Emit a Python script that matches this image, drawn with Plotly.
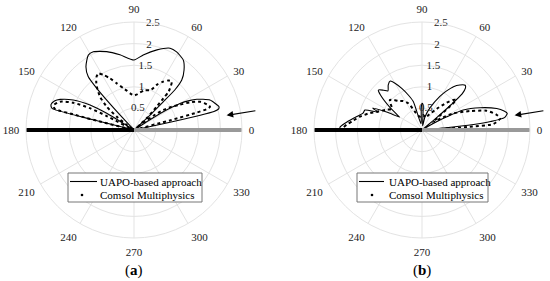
import math
import plotly.graph_objects as go

# ---------------- data ----------------
ANG_TICKS = [0, 30, 60, 90, 120, 150, 180, 210, 240, 270, 300, 330]
RAD_TICKS = [0.5, 1, 1.5, 2, 2.5]
RAD_LABELS = ["0.5", "1", "1.5", "2", "2.5"]
LEGEND_NAMES = ["UAPO-based approach", "Comsol Multiphysics"]
PANEL_LABELS = ["(<b>a</b>)", "(<b>b</b>)"]

# (a) UAPO-based approach (solid)
a_uapo_theta = [0, 11.5, 12, 12.5, 13, 14, 15.5, 18, 21.5, 24, 26, 28, 30, 32, 33, 34,
                42, 43, 44, 44.5, 46.3, 50.2, 54.8, 61.4, 66.2, 74, 83, 90, 100.6, 109.2,
                117.5, 121.4, 127.2, 130.6, 131.8, 133, 134,
                147, 148, 148.5, 150.4, 153.7, 157.5, 160, 163, 165, 165.5, 166, 166.5, 180]
a_uapo_r = [0, 0, 0.8, 1.5, 1.9, 2.02, 2.04, 1.98, 1.89, 1.75, 1.62, 1.45, 1.23, 0.8, 0.35, 0,
            0, 0.5, 0.94, 1.33, 1.6, 1.81, 1.98, 2.06, 2.07, 1.93, 1.75, 1.62, 1.77, 1.92,
            2.04, 2.03, 1.84, 1.63, 1.3, 0.5, 0,
            0, 0.3, 0.74, 1.17, 1.57, 1.85, 1.96, 2.01, 1.97, 1.93, 1.0, 0, 0]

# (a) Comsol Multiphysics (dots)
a_comsol_theta = [0, 14, 15, 15.5, 16, 17, 19, 21, 23.2, 26.3, 29, 31.7, 34.3, 36, 38, 40,
                  42.7, 45.8, 47.2, 48, 52, 55, 58.8, 63, 67.3, 75, 81, 86, 90, 95, 100,
                  104.4, 110.3, 114.9, 119.2, 122.2, 125, 128, 130.7, 135.6, 139.5, 142.4, 145, 147,
                  151.5, 152.9, 153.7, 155.8, 159, 163, 165, 165.6, 166.2, 166.8, 180]
a_comsol_r = [0, 0, 0.9, 1.5, 1.75, 1.84, 1.8, 1.74, 1.66, 1.45, 1.2, 1.03, 0.82, 0.6, 0.3, 0.08,
              0.4, 0.75, 1.0, 1.2, 1.42, 1.40, 1.31, 1.18, 1.0, 0.95, 0.88, 0.82, 0.8, 0.84, 0.92,
              1.0, 1.15, 1.32, 1.46, 1.55, 1.51, 1.42, 1.32, 1.10, 0.83, 0.5, 0.2, 0.05,
              0.05, 0.71, 1.14, 1.54, 1.83, 1.95, 1.9, 1.4, 0.7, 0, 0]

# (b) UAPO-based approach (solid)
b_uapo_theta = [0, 4, 5, 6, 7, 8.5, 11, 13, 16, 21, 26, 28, 30, 32,
                38, 40, 41, 42, 44, 46, 50, 54, 58, 62, 70, 77, 82,
                86, 88, 90, 92, 95, 100,
                107, 111.4, 116, 120, 123, 127, 131, 134, 137.5, 140, 145, 148, 150,
                153, 156, 158, 160.7, 164, 170.3, 175, 178, 180]
b_uapo_r = [0, 0, 0.5, 1.2, 1.6, 1.93, 2.01, 1.95, 1.80, 1.44, 1.06, 0.65, 0.3, 0.05,
            0, 0.4, 0.9, 1.25, 1.4, 1.44, 1.36, 1.24, 1.06, 0.88, 0.55, 0.32, 0.1,
            0.3, 0.6, 0.62, 0.5, 0.2, 0.15,
            0.69, 0.87, 1.07, 1.25, 1.35, 1.3, 1.2, 1.28, 1.37, 1.25, 0.9, 0.7, 0.6,
            0.9, 1.25, 1.1, 1.4, 1.42, 1.61, 1.79, 1.9, 1.9]

# (b) Comsol Multiphysics (dots)
b_comsol_theta = [0, 2, 3, 4, 4.8, 8.5, 12, 16.6, 21.6, 28, 32, 35, 38, 40, 41.5, 44, 48,
                  55, 65, 75, 85, 95, 105, 111, 117, 123, 129.3, 133, 136.8, 140, 145, 150,
                  158, 163, 167.9, 172, 176, 179, 180]
b_comsol_r = [0, 0, 0.4, 1.1, 1.66, 1.83, 1.75, 1.56, 1.19, 0.82, 0.5, 0.3, 0.45, 0.8, 1.05, 1.0, 0.85,
              0.6, 0.4, 0.3, 0.35, 0.3, 0.35, 0.45, 0.69, 0.8, 0.87, 0.95, 1.02, 0.95, 0.85, 0.94,
              1.13, 1.3, 1.47, 1.6, 1.75, 1.85, 1.87]

# plate (thick lines) and incidence arrow (tail -> tip, polar coordinates)
PLATE_R = [0, 2.5]
ARROW_THETA = [9, 9]
ARROW_R = [2.88, 2.17]

W, H = 550, 281
SERIF = "Liberation Serif"
GRID = "#e3e3e3"
R_MAX = 2.5
POLAR_BOXES = [(26, 242), (314, 530)]   # pixel extent of each polar domain (x)
POLAR_Y = (22, 238)                      # pixel extent of polar domains (y, from top)

def px(x):
    return x / W

def py(y):
    return 1 - y / H

fig = go.Figure()

panels = [
    ("polar", a_uapo_theta, a_uapo_r, a_comsol_theta, a_comsol_r),
    ("polar2", b_uapo_theta, b_uapo_r, b_comsol_theta, b_comsol_r),
]

for sp, ut, ur, ct, cr in panels:
    fig.add_trace(go.Scatterpolar(
        theta=ut, r=ur, mode="lines", subplot=sp,
        line=dict(color="black", width=1.1, shape="spline", smoothing=0.6),
        name=LEGEND_NAMES[0], showlegend=False))
    fig.add_trace(go.Scatterpolar(
        theta=ct, r=cr, mode="lines", subplot=sp, showlegend=False,
        line=dict(color="black", width=2, dash="dot", shape="spline", smoothing=0.6),
        name=LEGEND_NAMES[1]))
    # radial tick labels
    fig.add_trace(go.Scatterpolar(
        theta=[80] * len(RAD_TICKS), r=RAD_TICKS, text=RAD_LABELS, mode="text",
        subplot=sp, showlegend=False, cliponaxis=False, hoverinfo="skip",
        textfont=dict(family=SERIF, size=11, color="#222")))
    # plate lines
    fig.add_trace(go.Scatterpolar(
        theta=[180, 180], r=PLATE_R, mode="lines", subplot=sp, showlegend=False,
        line=dict(color="black", width=4)))
    fig.add_trace(go.Scatterpolar(
        theta=[0, 0], r=PLATE_R, mode="lines", subplot=sp, showlegend=False,
        line=dict(color="#999999", width=4)))

def polar_layout(x0, x1):
    return dict(
        domain=dict(x=[px(x0), px(x1)], y=[py(POLAR_Y[1]), py(POLAR_Y[0])]),
        bgcolor="white",
        angularaxis=dict(
            rotation=0, direction="counterclockwise",
            tickmode="array", tickvals=ANG_TICKS, ticktext=[str(v) for v in ANG_TICKS],
            showgrid=True, gridcolor=GRID, gridwidth=1,
            showline=True, linecolor=GRID, linewidth=1,
            ticks="outside", ticklen=4, tickcolor="rgba(0,0,0,0)",
            tickfont=dict(family=SERIF, size=11, color="#222")),
        radialaxis=dict(
            range=[0, R_MAX], tickmode="array", tickvals=RAD_TICKS,
            showticklabels=False, showgrid=True, gridcolor=GRID, gridwidth=1,
            showline=False, ticks="", angle=80))

shapes, annotations = [], []

# incidence arrows (outside the plotting circle, so drawn as annotations)
for x0, x1 in POLAR_BOXES:
    cx = (x0 + x1) / 2
    cy = (POLAR_Y[0] + POLAR_Y[1]) / 2
    scale = (x1 - x0) / 2 / R_MAX
    pts = [(cx + r * scale * math.cos(math.radians(t)), cy - r * scale * math.sin(math.radians(t)))
           for t, r in zip(ARROW_THETA, ARROW_R)]
    (tx0, ty0), (tx1, ty1) = pts
    annotations.append(dict(x=px(tx1), y=py(ty1), xref="paper", yref="paper",
                            ax=tx0 - tx1, ay=ty0 - ty1, axref="pixel", ayref="pixel",
                            text="", showarrow=True, arrowhead=2, arrowsize=1.1,
                            arrowwidth=1.2, arrowcolor="black"))

# hand-built legends (box, line sample, dot sample, texts) and panel labels
legend_boxes = [  # (box x0, box x1, line x0, line x1, dot x, text x)
    (68, 202, 70, 97, 82, 98),
    (357, 488, 359, 384, 372, 387),
]
for bx0, bx1, lx0, lx1, dx, tx in legend_boxes:
    shapes.append(dict(type="rect", xref="paper", yref="paper",
                       x0=px(bx0), x1=px(bx1), y0=py(202), y1=py(173),
                       line=dict(color="#777", width=1), fillcolor="white"))
    shapes.append(dict(type="line", xref="paper", yref="paper",
                       x0=px(lx0), x1=px(lx1), y0=py(181.5), y1=py(181.5),
                       line=dict(color="black", width=1.1)))
    shapes.append(dict(type="circle", xref="paper", yref="paper",
                       x0=px(dx - 1.3), x1=px(dx + 1.3), y0=py(195 + 1.3), y1=py(195 - 1.3),
                       line=dict(color="black", width=0), fillcolor="black"))
    for name, yy in zip(LEGEND_NAMES, (181.5, 195)):
        annotations.append(dict(text=name, x=px(tx), y=py(yy), xref="paper", yref="paper",
                                xanchor="left", yanchor="middle", showarrow=False,
                                font=dict(family=SERIF, size=11, color="black")))
for lab, (x0, x1) in zip(PANEL_LABELS, POLAR_BOXES):
    annotations.append(dict(text=lab, x=px((x0 + x1) / 2), y=py(270), xref="paper", yref="paper",
                            xanchor="center", yanchor="middle", showarrow=False,
                            font=dict(family=SERIF, size=15, color="black")))

fig.update_layout(
    width=W, height=H, margin=dict(l=0, r=0, t=0, b=0),
    paper_bgcolor="white", plot_bgcolor="white", showlegend=False,
    polar=polar_layout(*POLAR_BOXES[0]),
    polar2=polar_layout(*POLAR_BOXES[1]),
    shapes=shapes, annotations=annotations,
)

fig.write_html("out.html", post_script="document.body.style.margin='0px';",
               config={"displayModeBar": False})
